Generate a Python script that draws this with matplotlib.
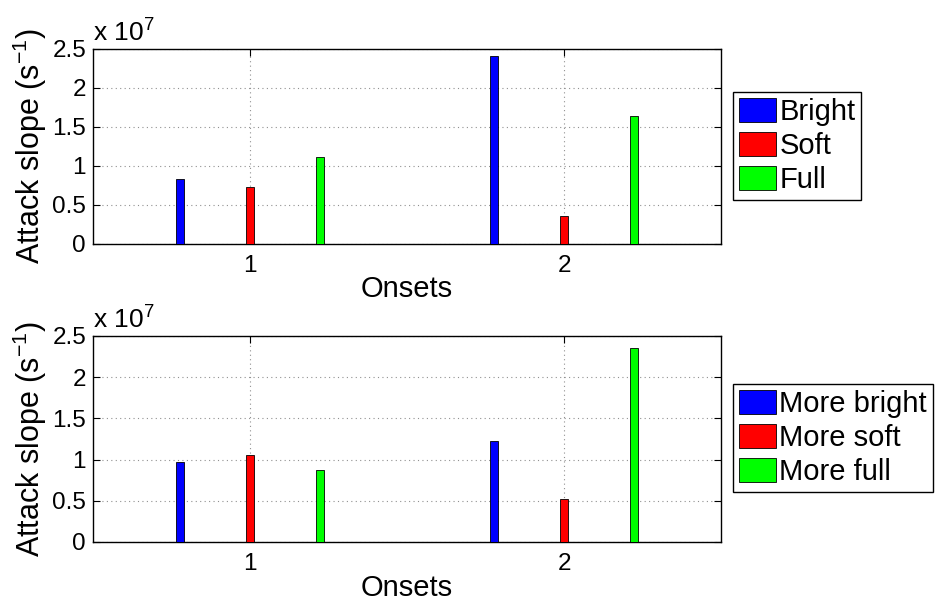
import numpy as np
import matplotlib
matplotlib.use("Agg")
import matplotlib.pyplot as plt
from matplotlib.ticker import FuncFormatter

plt.rcParams['font.family'] = ['Liberation Sans', 'DejaVu Sans']
plt.rcParams['mathtext.fontset'] = 'custom'
plt.rcParams['mathtext.rm'] = 'Liberation Sans'
plt.rcParams['mathtext.it'] = 'Liberation Sans'

# Onset indices and attack slopes (s^-1) per timbre category
onsets = [1, 2]

top_labels = ["Bright", "Soft", "Full"]
bright = [0.825e7, 2.415e7]
soft = [0.722e7, 0.359e7]
full = [1.107e7, 1.637e7]

bottom_labels = ["More bright", "More soft", "More full"]
more_bright = [0.976e7, 1.230e7]
more_soft = [1.052e7, 0.516e7]
more_full = [0.879e7, 2.347e7]

colors = [(0, 0, 1), (1, 0, 0), (0, 1, 0)]
ytick_vals = [0, 0.5e7, 1.0e7, 1.5e7, 2.0e7, 2.5e7]

fig = plt.figure(figsize=(9.36, 6.01), dpi=100)
ax_top = fig.add_axes([0.0994, 0.5945, 0.671, 0.324])
ax_bot = fig.add_axes([0.0994, 0.0982, 0.671, 0.343])

offsets = [-0.2222, 0.0, 0.2222]
bar_w = 0.025
x = np.array(onsets, dtype=float)


def draw_panel(ax, series, labels, legend_anchor):
    handles = []
    for s, lab, col, off in zip(series, labels, colors, offsets):
        h = ax.bar(x + off, s, width=bar_w, color=col, edgecolor='black',
                   linewidth=0.6, label=lab, zorder=3)
        handles.append(h)
    ax.set_xlim(0.5, 2.5)
    ax.set_ylim(0, 2.5e7)
    ax.set_xticks(onsets)
    ax.set_yticks(ytick_vals)
    ax.yaxis.set_major_formatter(FuncFormatter(lambda v, p: f"{v / 1e7:g}"))
    ax.grid(True, linestyle=(0, (1, 3)), color='#909090', linewidth=0.8, zorder=0)
    ax.tick_params(direction='in', length=5, width=0.8, labelsize=17.5,
                   top=True, right=True)
    ax.tick_params(axis='x', pad=8)
    ax.tick_params(axis='y', pad=5)
    for sp in ax.spines.values():
        sp.set_linewidth(1.0)
        sp.set_color('black')
    ax.set_xlabel("Onsets", fontsize=21, labelpad=-1)
    ax.set_ylabel("Attack slope (s$^{-1}$)", fontsize=22, labelpad=2)
    ax.text(0.0, 1.01, "x 10$^{7}$", transform=ax.transAxes, fontsize=19,
            ha='left', va='bottom')
    leg = fig.legend(handles=handles, labels=labels, loc='upper left',
                     bbox_to_anchor=legend_anchor, bbox_transform=fig.transFigure,
                     fontsize=21, frameon=True, fancybox=False, framealpha=1,
                     edgecolor='black', handlelength=1.3, handleheight=0.9,
                     handletextpad=0.1, labelspacing=0.2, borderpad=0.2,
                     borderaxespad=0.0)
    leg.get_frame().set_linewidth(1.0)


draw_panel(ax_top, [bright, soft, full], top_labels, (732.7 / 936, 1 - 91.7 / 601))
draw_panel(ax_bot, [more_bright, more_soft, more_full], bottom_labels,
           (732.7 / 936, 1 - 384.3 / 601))

fig.savefig("out.png", dpi=100)
